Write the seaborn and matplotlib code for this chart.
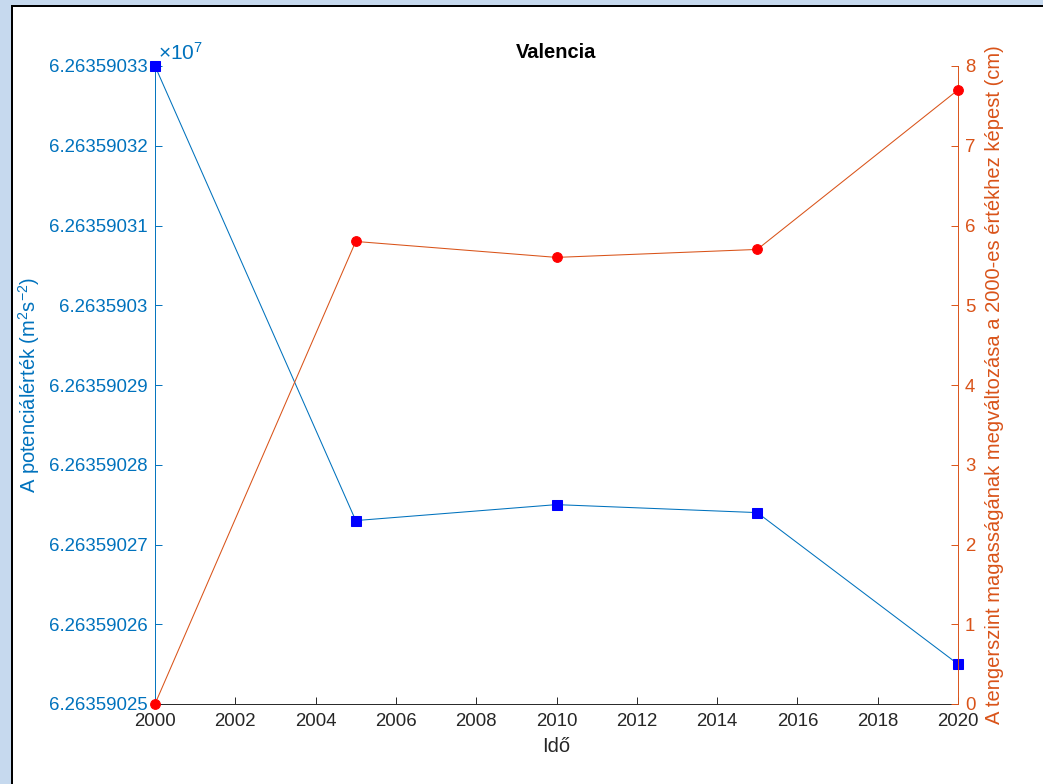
import matplotlib
matplotlib.use("Agg")
import matplotlib.pyplot as plt
from matplotlib.patches import Rectangle
from matplotlib.ticker import FixedLocator, FuncFormatter
import numpy as np
import seaborn as sns

# Data
years = [2000, 2005, 2010, 2015, 2020]
potential = [62635903.30, 62635902.73, 62635902.75, 62635902.74, 62635902.55]  # m^2 s^-2
sea_level = [0.0, 5.8, 5.6, 5.7, 7.7]  # cm, change relative to 2000
x_ticks = list(range(2000, 2021, 2))
left_ticks = [62635902.5 + 0.1 * k for k in range(9)]
right_ticks = list(range(0, 9))

title = "Valencia"
x_label = "Idő"
left_label = r"A potenciálérték (m$^{2}$s$^{-2}$)"
right_label = "A tengerszint magasságának megváltozása a 2000-es értékhez képest (cm)"

BLUE = "#0072BD"
ORANGE = "#D95319"
DARK = "#262626"

sns.set_style("white")
plt.rcParams["font.family"] = ["Liberation Sans", "DejaVu Sans"]
plt.rcParams["mathtext.fontset"] = "custom"
plt.rcParams["mathtext.rm"] = "Liberation Sans"
plt.rcParams["mathtext.it"] = "Liberation Sans"

W, H = 1043, 784
fig = plt.figure(figsize=(W / 100, H / 100), dpi=100, facecolor="white")

# Window frame: light blue margin with a dark edge
def px_rect(x0, y0, w, h, color):
    fig.add_artist(Rectangle((x0 / W, 1 - (y0 + h) / H), w / W, h / H,
                             transform=fig.transFigure, color=color, lw=0, zorder=-10))

px_rect(0, 0, 11, H, "#C6D9EE")
px_rect(0, 0, W, 5, "#C6D9EE")
px_rect(11, 5, 2, H - 5, "#000000")
px_rect(11, 5, W - 11, 2, "#000000")

left, right, top, bottom = 155, 958, 66, 704
ax1 = fig.add_axes([left / W, 1 - bottom / H, (right - left) / W, (bottom - top) / H])
ax1.set_facecolor("none")
ax2 = ax1.twinx()
ax2.set_facecolor("none")

sns.lineplot(x=years, y=potential, ax=ax1, color=BLUE, linewidth=0.75,
             marker="s", markersize=6.5, markerfacecolor="#0000FF",
             markeredgecolor="#0000FF", clip_on=False, zorder=3)
sns.lineplot(x=years, y=sea_level, ax=ax2, color=ORANGE, linewidth=0.75,
             marker="o", markersize=7, markerfacecolor="#FF0000",
             markeredgecolor="#FF0000", clip_on=False, zorder=3)

ax1.set_xlim(2000, 2020)
ax1.set_ylim(left_ticks[0], left_ticks[-1])
ax2.set_ylim(0, 8)

ax1.xaxis.set_major_locator(FixedLocator(x_ticks))
ax1.yaxis.set_major_locator(FixedLocator(left_ticks))
ax1.yaxis.set_major_formatter(
    FuncFormatter(lambda v, p: f"{v / 1e7:.8f}".rstrip("0").rstrip(".")))
ax2.yaxis.set_major_locator(FixedLocator(right_ticks))

for ax in (ax1, ax2):
    for s in ax.spines.values():
        s.set_visible(False)
        s.set_linewidth(0.7)
ax1.spines["left"].set_visible(True)
ax1.spines["left"].set_color(BLUE)
ax1.spines["bottom"].set_visible(True)
ax1.spines["bottom"].set_color(DARK)
ax2.spines["right"].set_visible(True)
ax2.spines["right"].set_color(ORANGE)

fs = 13.4
ax1.tick_params(axis="x", direction="in", length=5, width=0.7, color=DARK,
                labelcolor=DARK, labelsize=fs, pad=6.5, bottom=True, top=False)
ax1.tick_params(axis="y", direction="in", length=5, width=0.7, color=BLUE,
                labelcolor=BLUE, labelsize=fs, pad=5.5, left=True, right=False)
ax2.tick_params(axis="y", direction="in", length=5, width=0.7, color=ORANGE,
                labelcolor=ORANGE, labelsize=fs, pad=5, right=True, left=False)

ax1.set_xlabel(x_label, fontsize=14.5, color=DARK)
ax1.xaxis.set_label_coords(0.5, -0.052)
ax1.set_ylabel(left_label, fontsize=14.5, color=BLUE)
ax1.yaxis.set_label_coords(-0.1405, 0.5)
ax2.set_ylabel(right_label, fontsize=14.5, color=ORANGE, rotation=90)
ax2.yaxis.set_label_coords(1.034, 0.5)

ax1.set_title(title, fontsize=14.5, fontweight="bold", color="black", pad=6)

# Exponent marker for the left axis
ax1.text(0.004, 1.003, r"$\times$10$^{7}$", transform=ax1.transAxes,
         color=BLUE, fontsize=15, ha="left", va="bottom")

fig.savefig("out.png", dpi=100, facecolor="white")
